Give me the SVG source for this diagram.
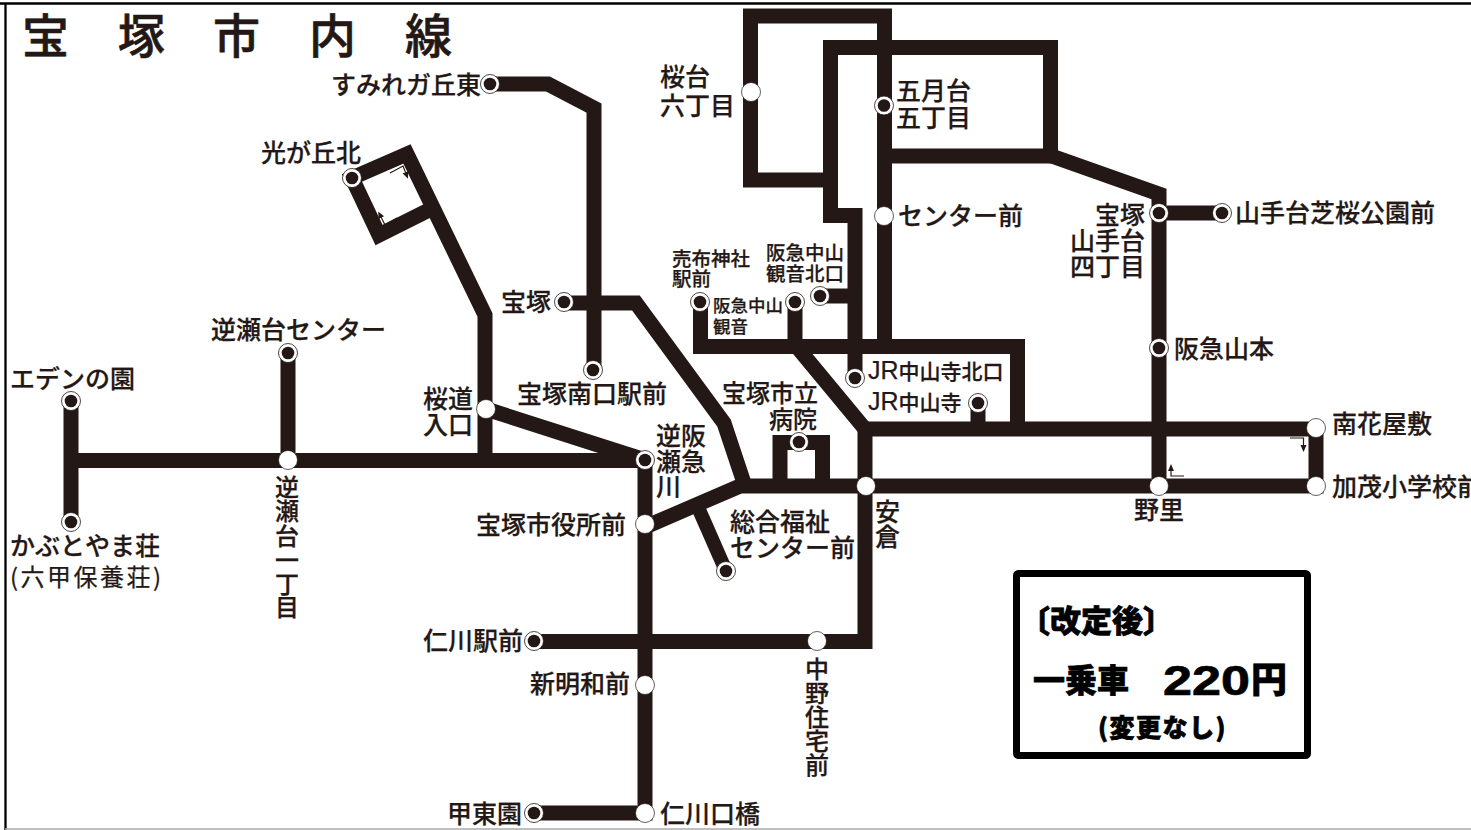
<svg xmlns="http://www.w3.org/2000/svg" width="1471" height="830" viewBox="0 0 1471 830">
<style>
text{font-family:"Noto Sans CJK JP","Noto Sans",sans-serif;font-size:25px;font-weight:500;fill:#231815;stroke:#231815;stroke-width:.25}
.s{font-size:19.500px}
.v{font-size:24px}
.t{font-size:47px;font-weight:500;stroke-width:.6}
.b{font-weight:900;fill:#000;stroke:#000;stroke-width:.7}
.j{font-size:21px}
.j tspan{font-family:"Liberation Sans",sans-serif;font-size:25px;font-weight:400}
.l{fill:none;stroke:#231815;stroke-width:15;stroke-linejoin:miter}
.a{fill:none;stroke:#231815;stroke-width:1.200;marker-end:url(#h)}
.w{fill:#fff;stroke:#231815;stroke-width:.7}
.o{fill:#fff;stroke:#231815;stroke-width:.8}
.c{fill:#231815}
</style>
<defs>
<marker id="h" markerUnits="userSpaceOnUse" markerWidth="8" markerHeight="8" refX="3" refY="3" orient="auto"><path d="M0 0L7 3L0 6Z" fill="#231815"/></marker>
<g id="ring"><circle class="o" r="9.500"/><circle class="c" r="6.300"/></g>
</defs>
<rect width="1471" height="830" fill="#fff"/>
<path d="M0 3.500H1471M5.500 3V830" fill="none" stroke="#000" stroke-width="2.300"/>
<path d="M5 829H1471" fill="none" stroke="#aaa" stroke-width="1.500"/>
<g id="title"><text class="t" x="22" y="53">宝</text><text class="t" x="118" y="53">塚</text><text class="t" x="213" y="53">市</text><text class="t" x="309" y="53">内</text><text class="t" x="405" y="53">線</text></g>
<g id="connectors">
<path class="l" d="M490 84H548L594 108V370"/>
<path class="l" d="M485 460V315L407 154L352 178L379 235L433 208"/>
<path class="l" d="M71 401V522M71 460.500H645M288 353V460"/>
<path class="l" d="M486 409L645 460"/>
<path class="l" d="M564 303H636L724 423L745 486"/>
<path class="l" d="M645 527L740 486H1316V429H860M865 422V641.500H535"/>
<path class="l" d="M645 460V813H534"/>
<path class="l" d="M726 571L697 505" style="stroke-width:14"/>
<path class="l" d="M780 486V442.500H822.500V486"/>
<path class="l" d="M700.500 302V346.500H1017.500V429M795 302V347M797 347L865 429"/>
<path class="l" d="M855 378V215.500H830.500V47.500H1050.500V156H884M884.500 347V16H750.500V180H830"/>
<path class="l" d="M819 296H855"/>
<path class="l" d="M1046 154L1159 194V486M1159 213H1222"/>
<path class="l" d="M978 402V428"/>
<path class="a" d="M1290 438H1303.500V448"/>
<path class="a" d="M1184 476H1171V468"/>
<path class="a" d="M390 173L403 166L406.500 175"/>
<path class="a" d="M397 218L385 225L380 215"/>
</g>
<g id="n-sumire"><use href="#ring" x="490" y="84"/><text x="331" y="94">すみれガ丘東</text></g>
<g id="n-hikari"><use href="#ring" x="352" y="178"/><text x="261" y="162">光が丘北</text></g>
<g id="n-gyakuse-c"><use href="#ring" x="288" y="353"/><text x="211" y="339">逆瀬台センター</text></g>
<g id="n-eden"><use href="#ring" x="71" y="401"/><text x="10" y="388">エデンの園</text></g>
<g id="n-kabuto"><use href="#ring" x="71" y="522"/><text x="10" y="555">かぶとやま荘</text><text x="10" y="586" style="font-size:24px;font-weight:400;letter-spacing:2.5px">(六甲保養荘)</text></g>
<g id="n-gyakuse1"><circle class="w" cx="288" cy="460" r="9.500"/><text class="v"><tspan x="275" y="496">逆</tspan><tspan x="275" y="520">瀬</tspan><tspan x="275" y="545">台</tspan><tspan x="275" y="569">一</tspan><tspan x="275" y="593">丁</tspan><tspan x="275" y="616">目</tspan></text></g>
<g id="n-sakuramichi"><circle class="w" cx="486" cy="409" r="9.500"/><text><tspan x="423" y="408">桜道</tspan><tspan x="423" y="434">入口</tspan></text></g>
<g id="n-takarazuka"><use href="#ring" x="564" y="302"/><text x="501" y="311">宝塚</text></g>
<g id="n-minamiguchi"><use href="#ring" x="593" y="370"/><text x="517" y="403">宝塚南口駅前</text></g>
<g id="n-sakasegawa"><use href="#ring" x="645" y="460"/><text><tspan x="656" y="445">逆阪</tspan><tspan x="656" y="471">瀬急</tspan><tspan x="656" y="496">川</tspan></text></g>
<g id="n-shiyakusho"><circle class="w" cx="645" cy="524" r="9.500"/><text x="476" y="534">宝塚市役所前</text></g>
<g id="n-fukushi"><use href="#ring" x="726" y="571"/><text><tspan x="730" y="531">総合福祉</tspan><tspan x="730" y="557">センター前</tspan></text></g>
<g id="n-nigawa"><use href="#ring" x="534" y="641"/><text x="423" y="650">仁川駅前</text></g>
<g id="n-shinmeiwa"><circle class="w" cx="645" cy="685" r="9.500"/><text x="530" y="693">新明和前</text></g>
<g id="n-kotoen"><use href="#ring" x="534" y="813"/><text x="447" y="823">甲東園</text></g>
<g id="n-nigawaguchi"><circle class="w" cx="645" cy="813" r="9.500"/><text x="660" y="823">仁川口橋</text></g>
<g id="n-nakano"><circle class="w" cx="817" cy="641" r="9.500"/><text class="v"><tspan x="805" y="678">中</tspan><tspan x="805" y="702">野</tspan><tspan x="805" y="726">住</tspan><tspan x="805" y="750">宅</tspan><tspan x="805" y="774">前</tspan></text></g>
<g id="n-byoin"><use href="#ring" x="799" y="442"/><text class="v"><tspan x="722" y="402">宝塚市立</tspan><tspan x="769" y="428">病院</tspan></text></g>
<g id="n-mefu"><use href="#ring" x="700" y="302"/><text class="s"><tspan x="672" y="266">売布神社</tspan><tspan x="672" y="286">駅前</tspan></text></g>
<g id="n-kannon"><use href="#ring" x="795" y="302"/><text class="s" style="font-size:17.500px"><tspan x="713" y="312">阪急中山</tspan><tspan x="713" y="333">観音</tspan></text></g>
<g id="n-kitaguchi"><use href="#ring" x="820" y="296"/><text class="s"><tspan x="766" y="260">阪急中山</tspan><tspan x="766" y="281">観音北口</tspan></text></g>
<g id="n-jrkita"><use href="#ring" x="855" y="378"/><text class="j" x="868" y="379"><tspan>JR</tspan>中山寺北口</text></g>
<g id="n-jr"><use href="#ring" x="978" y="403"/><text class="j" x="868" y="410"><tspan>JR</tspan>中山寺</text></g>
<g id="n-sakura6"><circle class="w" cx="751" cy="92" r="9.500"/><text><tspan x="660" y="86">桜台</tspan><tspan x="660" y="115">六丁目</tspan></text></g>
<g id="n-satsuki"><use href="#ring" x="884" y="105.500"/><text><tspan x="896" y="100">五月台</tspan><tspan x="896" y="127">五丁目</tspan></text></g>
<g id="n-center"><circle class="w" cx="884" cy="216" r="9.500"/><text x="898" y="225">センター前</text></g>
<g id="n-yamatedai"><use href="#ring" x="1159" y="213"/><text><tspan x="1095" y="224">宝塚</tspan><tspan x="1070" y="250">山手台</tspan><tspan x="1070" y="276">四丁目</tspan></text></g>
<g id="n-shibazakura"><use href="#ring" x="1222" y="213"/><text x="1235" y="222">山手台芝桜公園前</text></g>
<g id="n-yamamoto"><use href="#ring" x="1159" y="348"/><text x="1174" y="358">阪急山本</text></g>
<g id="n-anakura"><circle class="w" cx="866" cy="486" r="9.500"/><text><tspan x="875" y="521">安</tspan><tspan x="875" y="546">倉</tspan></text></g>
<g id="n-nozato"><circle class="w" cx="1159" cy="486" r="9.500"/><text x="1134" y="519">野里</text></g>
<g id="n-minamihanayashiki"><circle class="w" cx="1316" cy="428" r="9.500"/><text x="1332" y="433">南花屋敷</text></g>
<g id="n-kamo"><circle class="w" cx="1316" cy="486" r="9.500"/><text x="1332" y="496">加茂小学校前</text></g>
<g id="fare"><rect x="1016.500" y="573.500" width="291" height="182" rx="2" fill="#fff" stroke="#000" stroke-width="7"/>
<text class="b" x="1019" y="632" style="font-size:31px">〔改定後〕</text>
<text class="b" x="1033" y="692" style="font-size:32px">一乗車</text>
<text class="b" x="1163" y="695" style="font-size:42px;font-family:'Liberation Sans',sans-serif;font-weight:700" textLength="87" lengthAdjust="spacingAndGlyphs">220</text>
<text class="b" x="1251" y="693" style="font-size:36px">円</text>
<text class="b" x="1098" y="737" style="font-size:25px;letter-spacing:1.5px">(変更なし)</text></g>
</svg>
